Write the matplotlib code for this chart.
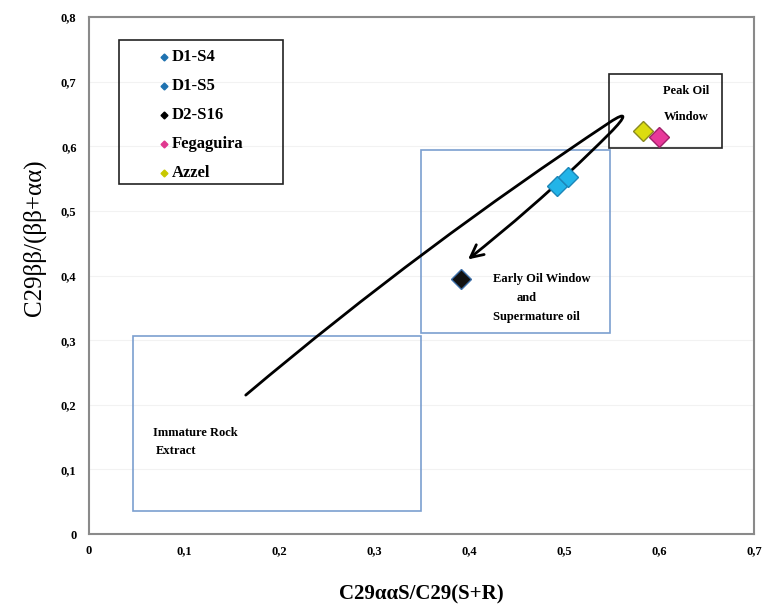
import matplotlib.pyplot as plt
import numpy as np
from matplotlib.path import Path
from matplotlib.patches import FancyArrowPatch, Rectangle

# sample values: C29 aaS/(S+R) vs C29 bb/(bb+aa)
samples = ['D1-S4', 'D1-S5', 'D2-S16', 'Fegaguira', 'Azzel']
sterane_s = [0.493, 0.504, 0.392, 0.600, 0.583]
sterane_bb = [0.538, 0.552, 0.395, 0.614, 0.623]
face_cols = ['#22B4E8', '#22B4E8', '#111111', '#E8399A', '#DCDC10']
edge_cols = ['#1C86B8', '#1C86B8', '#3D6FA8', '#A0206A', '#8A8A20']
legend_cols = ['#1F72B0', '#1F72B0', '#000000', '#E0388F', '#C8C800']

# maturity zones: (x0, x1, y0, y1)
zone_immature = (0.046, 0.349, 0.035, 0.306)
zone_early = (0.349, 0.548, 0.311, 0.595)
zone_peak = (0.547, 0.666, 0.597, 0.712)

# maturation trend curve (bezier control points): up, hairpin, back down
trend_pts = [(0.165, 0.215),
             (0.295, 0.376), (0.418, 0.510), (0.548, 0.637),
             (0.5667, 0.6553), (0.5667, 0.6475), (0.548, 0.620),
             (0.488, 0.5318), (0.439, 0.4722), (0.399, 0.425)]

xticks = np.arange(0, 0.71, 0.1)
yticks = np.arange(0, 0.81, 0.1)

plt.rcParams['font.family'] = 'Liberation Serif'

fig = plt.figure(figsize=(7.62, 6.11), dpi=100)
ax = fig.add_axes([0.1168, 0.126, 0.8727, 0.846])
ax.set_xlim(0, 0.7)
ax.set_ylim(0, 0.8)

for s in ax.spines.values():
    s.set_color('#8a8a8a')
    s.set_linewidth(1.5)

def fmt(v):
    return '0' if abs(v) < 1e-9 else ('%.1f' % v).replace('.', ',')

ax.set_xticks(xticks)
ax.set_yticks(yticks)
ax.set_xticklabels([fmt(v) for v in xticks], fontsize=9, fontweight='bold')
ax.set_yticklabels([fmt(v) for v in yticks], fontsize=9, fontweight='bold')
ax.tick_params(length=0)
ax.tick_params(axis='x', pad=8)
ax.tick_params(axis='y', pad=9)
ax.yaxis.grid(True, color='#f2f2f2', lw=0.8)
ax.set_axisbelow(True)

# zones
def zone(z, col):
    x0, x1, y0, y1 = z
    ax.add_patch(Rectangle((x0, y0), x1 - x0, y1 - y0, fill=False, ec=col, lw=1.2))

zone(zone_immature, '#7B9FD0')
zone(zone_early, '#7B9FD0')
zone(zone_peak, '#222222')

txt = dict(fontsize=9, fontweight='bold')
ax.text(0.067, 0.157, 'Immature Rock', va='center', **txt)
ax.text(0.070, 0.129, 'Extract', va='center', **txt)
ax.text(0.425, 0.395, 'Early Oil Window', va='center', **txt)
ax.text(0.450, 0.366, 'and', va='center', **txt)
ax.text(0.425, 0.336, 'Supermature oil', va='center', **txt)
ax.text(0.629, 0.685, 'Peak Oil', va='center', ha='center', **txt)
ax.text(0.629, 0.645, 'Window', va='center', ha='center', **txt)

# trend arrow
codes = [Path.MOVETO] + [Path.CURVE4] * 9
trend = Path(trend_pts, codes)
arr = FancyArrowPatch(path=trend, transform=ax.transData,
                      arrowstyle='->,head_length=9,head_width=4.5',
                      lw=2, color='black', mutation_scale=1)
ax.add_patch(arr)

# samples
for i in range(len(samples)):
    ax.plot(sterane_s[i], sterane_bb[i], 'D', ms=10, mfc=face_cols[i],
            mec=edge_cols[i], mew=1)

# legend box
ax.add_patch(Rectangle((0.032 / 0.7, 0.541 / 0.8), 0.172 / 0.7, 0.223 / 0.8,
                       transform=ax.transAxes, fill=False, ec='#222222', lw=1.2))
for i, name in enumerate(samples):
    yy = (534 - 57 - i * 29.0) / 517.0
    ax.plot(0.1128, yy, 'D', ms=3.5, color=legend_cols[i], transform=ax.transAxes)
    ax.text(0.1248, yy, name, transform=ax.transAxes, va='center',
            fontsize=12, fontweight='bold')

ax.set_xlabel('C29ααS/C29(S+R)', fontsize=15, fontweight='bold', labelpad=20)
ax.set_ylabel('C29ββ/(ββ+αα)', fontsize=18, va='center')
ax.yaxis.set_label_coords(-0.083, 0.574)

fig.savefig('out.png', dpi=100)
